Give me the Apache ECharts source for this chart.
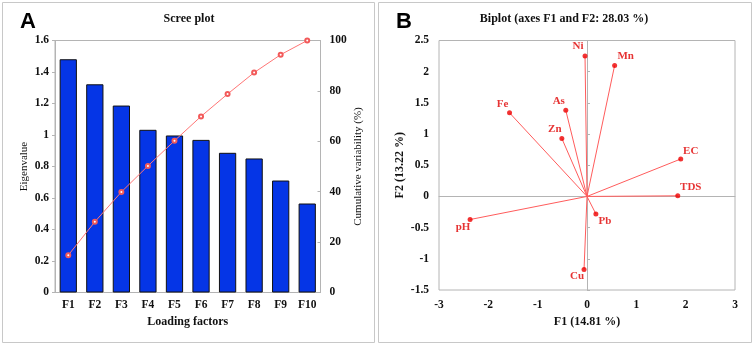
<!DOCTYPE html>
<html>
<head>
<meta charset="utf-8">
<script src="https://cdn.jsdelivr.net/npm/echarts@6/dist/echarts.min.js"></script>
<style>html,body{margin:0;padding:0;background:#fff}#c{width:754px;height:346px}</style>
</head>
<body>
<div id="c"></div>
<script>
// ---- Data ----
var categories = ['F1','F2','F3','F4','F5','F6','F7','F8','F9','F10'];
var eigenvalues = [1.481, 1.322, 1.187, 1.033, 0.997, 0.969, 0.887, 0.851, 0.711, 0.565];
var cumulative = [14.81, 28.03, 39.90, 50.23, 60.20, 69.89, 78.76, 87.27, 94.38, 100];
var variables = ['Ni','Mn','Fe','As','Zn','EC','TDS','Pb','pH','Cu'];
var f1 = [-0.04, 0.56, -1.57, -0.43, -0.51, 1.90, 1.84, 0.18, -2.37, -0.06];
var f2 = [2.25, 2.10, 1.34, 1.38, 0.93, 0.60, 0.01, -0.28, -0.37, -1.17];

// ---- Styles ----
var SERIF = '"Liberation Serif","Times New Roman",serif';
var GRAY = '#b4b4b4';
var labelOffsets = {Ni:[-7,-10], Mn:[11,-9], Fe:[-7,-9], As:[-7,-9], Zn:[-7,-9], EC:[10,-8], TDS:[13,-9], Pb:[9,7], pH:[-7,8], Cu:[-7,7]};

var chart = echarts.init(document.getElementById('c'), null, {renderer:'canvas'});

var tickLabel = {fontFamily:SERIF, fontWeight:'bold', fontSize:11.5, color:'#111'};

var vecLines = variables.map(function(v,i){ return {coords:[[0,0],[f1[i],f2[i]]]}; });
var vecPts = variables.map(function(v,i){
  return {name:v, value:[f1[i],f2[i]], label:{offset:labelOffsets[v]}};
});

var option = {
  animation:false,
  backgroundColor:'#fff',
  title:[
    {text:'Scree plot', left:189, top:13, textAlign:'center', padding:0,
     textStyle:{fontFamily:SERIF, fontWeight:'bold', fontSize:12, color:'#111'}},
    {text:'Biplot (axes F1 and F2: 28.03 %)', left:564, top:13, textAlign:'center', padding:0,
     textStyle:{fontFamily:SERIF, fontWeight:'bold', fontSize:12, color:'#111'}}
  ],
  graphic:[
    {type:'rect', shape:{x:2.5,y:2.5,width:372,height:340}, style:{fill:'none', stroke:'#c8c8c8', lineWidth:1}},
    {type:'rect', shape:{x:378.5,y:2.5,width:373,height:340}, style:{fill:'none', stroke:'#c8c8c8', lineWidth:1}},
    {type:'text', left:20, top:11, style:{text:'A', font:'bold 22px "Liberation Sans", Arial, sans-serif', fill:'#000'}},
    {type:'text', left:396, top:11, style:{text:'B', font:'bold 22px "Liberation Sans", Arial, sans-serif', fill:'#000'}}
  ],
  grid:[
    {left:55, top:40.5, width:265.5, height:252, show:true, borderColor:GRAY, borderWidth:1, containLabel:false},
    {left:439, top:40.5, width:296, height:249.5, show:true, borderColor:GRAY, borderWidth:1, containLabel:false}
  ],
  xAxis:[
    {type:'category', gridIndex:0, data:categories, boundaryGap:true,
     axisLine:{show:true, lineStyle:{color:GRAY}}, axisTick:{show:false},
     axisLabel:Object.assign({margin:7}, tickLabel),
     name:'Loading factors', nameLocation:'middle', nameGap:23,
     nameTextStyle:{fontFamily:SERIF, fontWeight:'bold', fontSize:12, color:'#111'}},
    {type:'value', gridIndex:1, min:-3, max:3, interval:1,
     axisLine:{show:false, onZero:false}, axisTick:{show:false}, splitLine:{show:false},
     axisLabel:Object.assign({margin:9}, tickLabel),
     name:'F1 (14.81 %)', nameLocation:'middle', nameGap:26,
     nameTextStyle:{fontFamily:SERIF, fontWeight:'bold', fontSize:12, color:'#111'}},
    {type:'value', gridIndex:1, min:-3, max:3, interval:1, position:'bottom',
     axisLine:{show:true, onZero:true, onZeroAxisIndex:2, lineStyle:{color:GRAY}},
     axisTick:{show:false}, axisLabel:{show:false}, splitLine:{show:false}}
  ],
  yAxis:[
    {type:'value', gridIndex:0, min:0, max:1.6, interval:0.2,
     axisLine:{show:true, lineStyle:{color:GRAY}}, axisTick:{show:true, length:3, inside:false, lineStyle:{color:GRAY}},
     splitLine:{show:false},
     axisLabel:Object.assign({margin:6}, tickLabel),
     name:'Eigenvalue', nameLocation:'middle', nameGap:25, nameRotate:90,
     nameTextStyle:{fontFamily:SERIF, fontSize:11, color:'#111'}},
    {type:'value', gridIndex:0, min:0, max:100, interval:20, position:'right',
     axisLine:{show:true, lineStyle:{color:GRAY}}, axisTick:{show:true, length:3, inside:true, lineStyle:{color:GRAY}},
     splitLine:{show:false},
     axisLabel:Object.assign({margin:9}, tickLabel),
     name:'Cumulative variability (%)', nameLocation:'middle', nameGap:32, nameRotate:90,
     nameTextStyle:{fontFamily:SERIF, fontSize:11, color:'#111'}},
    {type:'value', gridIndex:1, min:-1.5, max:2.5, interval:0.5,
     axisLine:{show:false, onZero:false}, axisTick:{show:false}, splitLine:{show:false},
     axisLabel:Object.assign({margin:10}, tickLabel),
     name:'F2 (13.22 %)', nameLocation:'middle', nameGap:33, nameRotate:90,
     nameTextStyle:{fontFamily:SERIF, fontWeight:'bold', fontSize:12, color:'#111'}},
    {type:'value', gridIndex:1, min:-1.5, max:2.5, interval:0.5, position:'left',
     axisLine:{show:true, onZero:true, onZeroAxisIndex:1, lineStyle:{color:GRAY}},
     axisTick:{show:true, length:3, inside:true, lineStyle:{color:GRAY}},
     axisLabel:{show:false}, splitLine:{show:false}}
  ],
  series:[
    {type:'bar', xAxisIndex:0, yAxisIndex:0, data:eigenvalues, barWidth:'65%',
     itemStyle:{color:'#0535e6', borderColor:'#111', borderWidth:1}, z:2},
    {type:'line', xAxisIndex:0, yAxisIndex:1, data:cumulative,
     symbol:'emptyCircle', symbolSize:4, showSymbol:true,
     lineStyle:{color:'#ff7575', width:1}, itemStyle:{color:'#f25a5a', borderWidth:1}, z:3},
    {type:'lines', coordinateSystem:'cartesian2d', xAxisIndex:1, yAxisIndex:2, data:vecLines,
     lineStyle:{color:'#ff5c5c', width:1, opacity:1}, symbol:['none','none'], z:3},
    {type:'scatter', xAxisIndex:1, yAxisIndex:2, data:vecPts, symbol:'circle', symbolSize:5,
     itemStyle:{color:'#ee0000'}, z:4,
     label:{show:true, position:'inside', formatter:'{b}', fontFamily:SERIF, fontWeight:'bold', fontSize:11, color:'#e00000'}}
  ]
};
chart.setOption(option);
</script>
</body>
</html>
